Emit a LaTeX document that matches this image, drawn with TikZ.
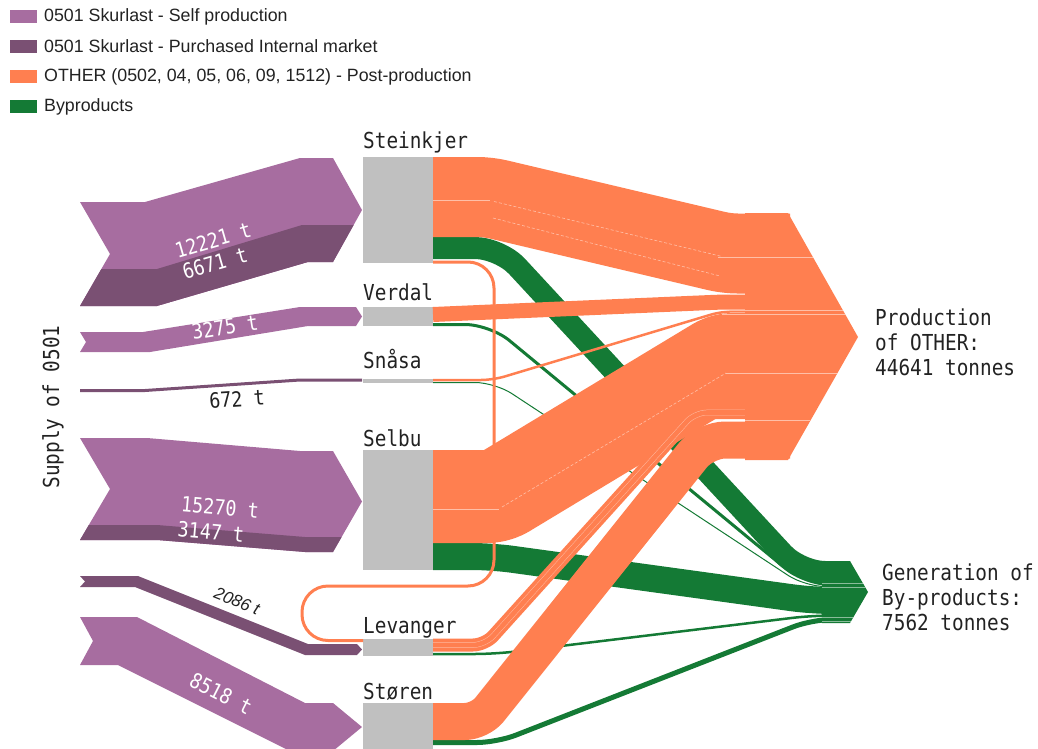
\documentclass[tikz,border=0pt]{standalone}
\usepackage{fontspec}
\setmainfont{Liberation Sans}
\newfontfamily\monof[FakeStretch=0.88]{DejaVu Sans Mono}
\definecolor{selfc}{HTML}{A76DA0}
\definecolor{buyc}{HTML}{7A5073}
\definecolor{othc}{HTML}{FF7F50}
\definecolor{bypc}{HTML}{147A35}
\definecolor{stnc}{HTML}{C0C0C0}
\definecolor{txtc}{HTML}{222222}

\begin{document}
\begin{tikzpicture}[x=1pt,y=-1pt,
  stnbox/.style={fill=stnc, inner sep=0, minimum width=70pt, anchor=north west},
  stnlabel/.style={font=\monof\fontsize{22}{25}\selectfont, text=txtc, inner sep=0, anchor=base west},
  vallabel/.style={font=\monof\fontsize{21}{24}\selectfont, text=white, inner sep=0},
  othflow/.style={draw=othc, line width=#1, line cap=butt, line join=round},
  bypflow/.style={draw=bypc, line width=#1, line cap=butt, line join=round},
  seam/.style={draw=white, line width=0.6pt, opacity=0.5},
  dseam/.style={seam, dash pattern=on 3pt off 2pt},
  swatch/.style={fill=#1, minimum width=27pt, minimum height=13pt, inner sep=0, anchor=west},
  legtext/.style={font=\fontsize{17.8}{20}\selectfont, text=txtc, inner sep=0, anchor=west},
]
\useasboundingbox (0,0) rectangle (1038,749);

% ---------------- legend ----------------
\node[swatch=selfc] (sw1) at (10,16.5) {};
\node[legtext] (lg1) at (44,16.5) {0501 Skurlast - Self production};
\node[swatch=buyc] (sw2) at (10,46.5) {};
\node[legtext] (lg2) at (44,46.5) {0501 Skurlast - Purchased Internal market};
\node[swatch=othc] (sw3) at (10,76.5) {};
\node[legtext] (lg3) at (44,76.5) {OTHER (0502, 04, 05, 06, 09, 1512) - Post-production};
\node[swatch=bypc] (sw4) at (10,106.5) {};
\node[legtext] (lg4) at (44,106.5) {Byproducts};

% ---------------- supply arrows ----------------
% Steinkjer
\def\stkin{(80,202) -- (145,202) -- (300,158) -- (333,158) -- (362,210) -- (333,262) -- (308,262) -- (157,306) -- (80,306) -- (110,254) -- cycle}
\fill[selfc] \stkin;
\begin{scope}
  \clip \stkin;
  \fill[buyc] (60,306) -- (157,306) -- (308,262) -- (380,262) -- (380,225) -- (302,225) -- (157,269) -- (60,269) -- cycle;
\end{scope}
% Verdal
\fill[selfc] (80,332) -- (143,332) -- (300,307) -- (356,307) -- (362,316.5) -- (356,326) -- (308,326) -- (150,352) -- (80,352) -- (86,342) -- cycle;
% Snasa
\draw[buyc, line width=3pt] (80,390.5) -- (145,390.5) -- (300,380) -- (362,380);
% Selbu
\def\selin{(80,438) -- (147,438) -- (300,451) -- (333,451) -- (362,501.5) -- (333,552) -- (305,552) -- (157,540) -- (80,540) -- (110,489) -- cycle}
\fill[selfc] \selin;
\begin{scope}
  \clip \selin;
  \fill[buyc] (60,540) -- (157,540) -- (305,552) -- (380,552) -- (380,537) -- (305,537) -- (157,525) -- (60,525) -- cycle;
\end{scope}
% Levanger
\fill[buyc] (80,576) -- (138,576) -- (308,644) -- (357,644) -- (362,649.5) -- (357,655) -- (305,655) -- (135,587) -- (80,587) -- (85,581.5) -- cycle;
% Storen
\fill[selfc] (80,617) -- (137,617) -- (305,703) -- (333,703) -- (362,727) -- (333,751) -- (290,751) -- (118,665) -- (80,665) -- (93,641) -- cycle;

% supply values
\node[vallabel, rotate=16] (v1) at (213,240) {12221 t};
\node[vallabel, rotate=16] (v2) at (215,263) {6671 t};
\node[vallabel, rotate=9] (v3) at (225,327) {3275 t};
\node[vallabel, rotate=4, text=txtc] (v4) at (237,399) {672 t};
\node[vallabel, rotate=-5] (v5) at (220,507) {15270 t};
\node[vallabel, rotate=-5] (v6) at (211,532) {3147 t};
\node[font=\itshape\fontsize{17}{20}\selectfont, text=txtc, inner sep=0, rotate=-22] (v7) at (237,601) {2086 t};
\node[vallabel, rotate=-27] (v8) at (221,694) {8518 t};
\node[stnlabel, anchor=center, rotate=90] (supply) at (53,407) {Supply of 0501};

% ---------------- stations ----------------
\node[stnbox, minimum height=106pt] (stk) at (363,157) {};
\node[stnbox, minimum height=19pt]  (ver) at (363,307) {};
\node[stnbox, minimum height=4pt]   (sna) at (363,378.5) {};
\node[stnbox, minimum height=120pt] (sel) at (363,450) {};
\node[stnbox, minimum height=17pt]  (lev) at (363,639) {};
\node[stnbox, minimum height=50pt]  (sto) at (363,703) {};
\node[stnlabel] (stkl) at (363,149) {Steinkjer};
\node[stnlabel] (verl) at (363,300) {Verdal};
\node[stnlabel] (snal) at (363,368) {Snåsa};
\node[stnlabel] (sell) at (363,446) {Selbu};
\node[stnlabel] (levl) at (363,633) {Levanger};
\node[stnlabel] (stol) at (363,699) {Støren};

% flow ports on the stations
\coordinate (stkO) at (433,197);   \coordinate (stkB) at (433,248);   \coordinate (stkL) at (433,262);
\coordinate (verO) at (433,314.5); \coordinate (verB) at (433,324.5);
\coordinate (snaO) at (433,380);   \coordinate (snaB) at (433,382.5);
\coordinate (selO) at (433,496.5); \coordinate (selB) at (433,556.5);
\coordinate (levO) at (433,645);   \coordinate (levB) at (433,654);   \coordinate (levL) at (363,640.5);
\coordinate (stoO) at (433,721.5); \coordinate (stoB) at (433,742.5);
% ports on the outputs
\coordinate (pStk) at (790,253.5);
\coordinate (pVer) at (790,302);
\coordinate (pSna) at (790,311.3);
\coordinate (pSel) at (790,359.5);
\coordinate (pLev) at (790,412.5);
\coordinate (pSto) at (790,440);
\coordinate (bStk) at (850,572);
\coordinate (bVer) at (850,584.5);
\coordinate (bSna) at (850,586.5);
\coordinate (bSel) at (850,600.5);
\coordinate (bLev) at (850,615.5);
\coordinate (bSto) at (850,619.5);

% ---------------- by-product flows ----------------
\draw[bypflow=22pt, rounded corners=25pt] (stkB) -- ([xshift=67pt]stkB) -- ([xshift=-50pt]bStk) -- (bStk);
\draw[bypflow=3pt, rounded corners=25pt] (verB) -- ([xshift=57pt]verB) -- ([xshift=-45pt]bVer) -- (bVer);
\draw[bypflow=1pt, rounded corners=20pt] (snaB) -- ([xshift=62pt]snaB) -- ([xshift=-45pt]bSna) -- (bSna);
\draw[bypflow=27pt, rounded corners=20pt] (selB) -- ([xshift=59pt]selB) -- ([xshift=-38pt]bSel) -- (bSel);
\draw[bypflow=2.5pt, rounded corners=20pt] (levB) -- ([xshift=62pt]levB) -- ([xshift=-38pt]bLev) -- (bLev);
\draw[bypflow=5pt, rounded corners=20pt] (stoB) -- ([xshift=64pt]stoB) -- ([xshift=-38pt]bSto) -- (bSto);

% ---------------- post-production flows ----------------
\draw[othflow=80pt, rounded corners=10pt] (stkO) -- ([xshift=55pt]stkO) -- ([xshift=-63pt]pStk) -- (pStk);
\draw[othflow=15pt, rounded corners=10pt] (verO) -- ([xshift=-68pt]pVer) -- (pVer);
\draw[othflow=2.5pt, rounded corners=12pt] (snaO) -- ([xshift=60pt]snaO) -- ([xshift=-68pt]pSna) -- (pSna);
\draw[othflow=93pt] (selO) [rounded corners=9pt] -- ([xshift=64pt]selO) [rounded corners=8pt] -- ([xshift=-66pt]pSel) -- (pSel);
\draw[othflow=13pt, rounded corners=12pt] (levO) -- ([xshift=52pt]levO) -- ([xshift=-95pt]pLev) -- (pLev);
\draw[othflow=5.6pt, draw=white, opacity=0.45, rounded corners=12pt] (levO) -- ([xshift=52pt]levO) -- ([xshift=-95pt]pLev) -- (pLev);
\draw[othflow=4.6pt, rounded corners=12pt] (levO) -- ([xshift=52pt]levO) -- ([xshift=-95pt]pLev) -- (pLev);
\draw[othflow=37pt] (stoO) [rounded corners=15pt] -- ([xshift=47pt]stoO) [rounded corners=20pt] -- ([xshift=-85pt]pSto) -- (pSto);
% internal transfer Steinkjer -> Levanger
\draw[othflow=3pt, rounded corners=26pt] (stkL) -- (494,262) -- (494,586) -- (302,586) -- (302,640.5) -- (levL);

% seams between sub-flows
\draw[seam] (433,200) -- (490,200);
\draw[dseam] (494,201.5) -- (722,256.5);
\draw[dseam] (493,218) -- (720,276);
\draw[seam] (433,509) -- (499,509);
\draw[dseam] (502,507) -- (726,373);

% ---------------- outputs ----------------
\def\prodshape{(745,213) -- (788,213) -- (858,337) -- (788,460) -- (745,460) -- cycle}
\def\bypshape{(822,561) -- (850,561) -- (868,592) -- (850,623) -- (822,623) -- cycle}
\fill[othc] \prodshape;
\fill[bypc] \bypshape;
\begin{scope}
  \clip (718,200) -- (788,213) -- (858,337) -- (788,460) -- (718,470) -- cycle;
  \draw[seam] (718,257) -- (870,257);
  \draw[seam] (722,310) -- (870,310);
  \draw[seam] (722,314) -- (870,314);
  \draw[seam] (726,373) -- (870,373);
  \draw[seam] (745,420) -- (810,420);
\end{scope}
\begin{scope}
  \clip \bypshape;
  \draw[seam] (810,583.5) -- (870,583.5);
  \draw[seam] (810,587) -- (870,587);
  \draw[seam] (810,617.5) -- (870,617.5);
  \draw[seam] (810,621) -- (870,621);
\end{scope}
\coordinate (prod) at (858,337);
\coordinate (byp) at (868,592);

\node[stnlabel] (pr1) at (875,325) {Production};
\node[stnlabel] (pr2) at (875,350) {of OTHER:};
\node[stnlabel] (pr3) at (875,375) {44641 tonnes};
\node[stnlabel] (by1) at (882,580) {Generation of};
\node[stnlabel] (by2) at (882,605) {By-products:};
\node[stnlabel] (by3) at (882,630) {7562 tonnes};
\end{tikzpicture}
\end{document}
